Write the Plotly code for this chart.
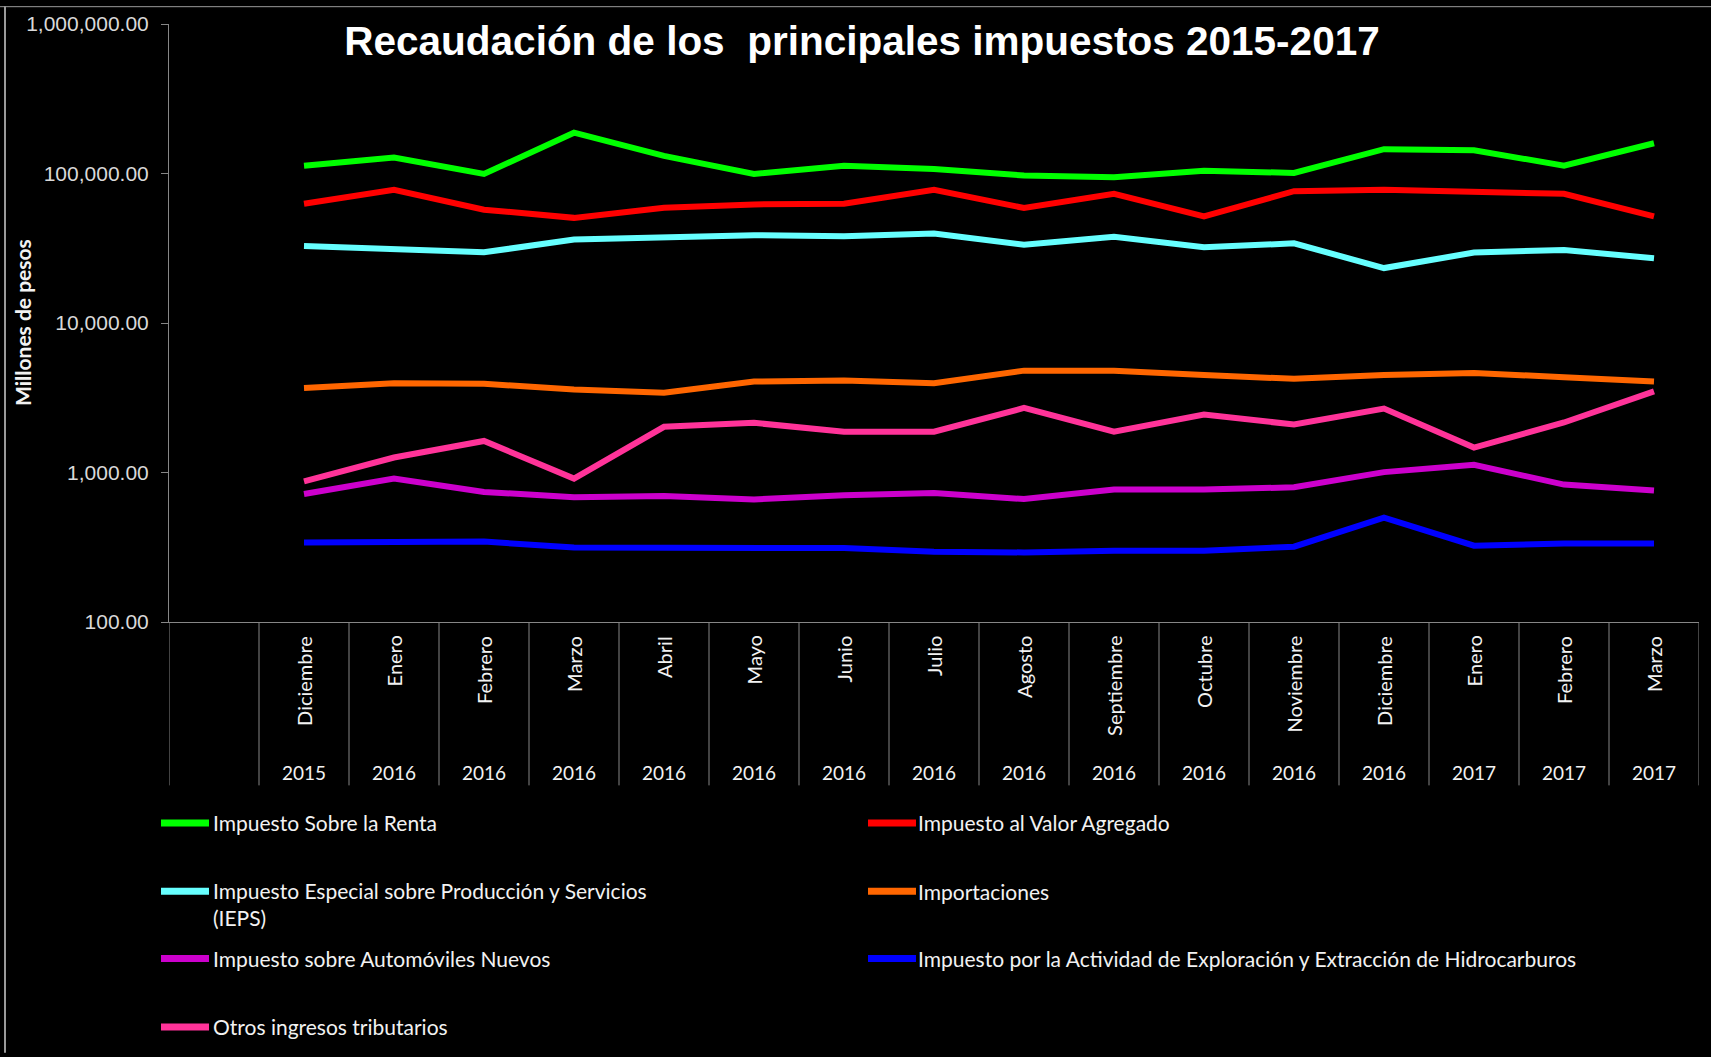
import plotly.graph_objects as go

# ---- data -------------------------------------------------------------
months = ["Diciembre", "Enero", "Febrero", "Marzo", "Abril", "Mayo", "Junio",
          "Julio", "Agosto", "Septiembre", "Octubre", "Noviembre", "Diciembre",
          "Enero", "Febrero", "Marzo"]
years = ["2015"] + ["2016"] * 12 + ["2017"] * 3

# one category per (month, year) pair, preceded by an empty leading slot
periods = [f"{m} {y}" for m, y in zip(months, years)]
lead_slot = " "
categories = [lead_slot] + periods

isr = [112700, 128000, 99300, 187600, 131200, 99300, 112700, 107100,
       97000, 94300, 104400, 100800, 145400, 143200, 112700, 159300]
iva = [62800, 77800, 57300, 50500, 59100, 62100, 62800, 77800,
       58800, 73100, 51700, 76200, 77800, 75000, 73100, 51700]
ieps = [32700, 31200, 29700, 36200, 37800, 38700, 38000, 39700,
        33400, 37800, 32100, 34100, 23300, 29600, 30800, 27100]
importaciones = [3680, 3960, 3920, 3590, 3410, 4060, 4120, 3960,
                 4800, 4800, 4490, 4230, 4490, 4630, 4340, 4060]
isan = [719, 910, 741, 684, 695, 660, 705, 730,
        664, 769, 769, 796, 1006, 1127, 830, 757]
hidrocarburos = [340, 340, 345, 315, 312, 312, 312, 295,
                 292, 300, 300, 319, 499, 324, 335, 335]
otros = [873, 1259, 1625, 910, 2022, 2149, 1873, 1873,
         2702, 1873, 2440, 2094, 2675, 1467, 2160, 3487]

series_names = [
    "Impuesto Sobre la Renta",
    "Impuesto al Valor Agregado",
    "Impuesto Especial sobre Producción y Servicios<br>(IEPS)",
    "Importaciones",
    "Impuesto sobre Automóviles Nuevos",
    "Impuesto por la Actividad de Exploración y Extracción de Hidrocarburos",
    "Otros ingresos tributarios",
]
series_values = [isr, iva, ieps, importaciones, isan, hidrocarburos, otros]

title_text = "Recaudación de los \u00a0principales impuestos 2015-2017"
y_title = "Millones de pesos"

# ---- styling / geometry ------------------------------------------------
colors = ["#00FF00", "#FF0000", "#66FFFF", "#FF6600", "#CC00CC", "#0000FF", "#FF3399"]

W, H = 1711, 1057
ML, MR, MT, MB = 169, 12, 18, 435
PW = W - ML - MR
PH = H - MT - MB
AXIS_GRAY = "#868686"
TEXT = "#F2F2F2"
CAL = "Lato, 'Open Sans', sans-serif"


def px(x):
    """pixel column -> paper x"""
    return (x - ML) / PW


def py(y):
    """pixel row -> paper y"""
    return (H - MB - y) / PH


fig = go.Figure()

for name, vals, col in zip(series_names, series_values, colors):
    fig.add_trace(go.Scatter(
        x=periods, y=vals, mode="lines", name=name.replace("<br>", " "),
        line=dict(color=col, width=6), showlegend=False,
    ))

shapes = []
# category dividers under the plot and the extended left axis line
for k in range(len(categories) + 1):
    shapes.append(dict(type="line", xref="x", yref="paper",
                       x0=k - 0.5, x1=k - 0.5, y0=0, y1=py(787),
                       line=dict(color=AXIS_GRAY, width=1)))

# thin frame at the left and top edges
shapes.append(dict(type="line", xref="paper", yref="paper",
                   x0=px(5), x1=px(5), y0=py(0), y1=py(H),
                   line=dict(color="#9A9A9A", width=2)))
shapes.append(dict(type="line", xref="paper", yref="paper",
                   x0=px(0), x1=px(W), y0=py(0.5), y1=py(0.5),
                   line=dict(color="#9A9A9A", width=1)))

annotations = []
for m, p in zip(months, periods):
    annotations.append(dict(x=p, xref="x", y=py(634), yref="paper",
                            text=m, textangle=-90, showarrow=False,
                            xanchor="center", yanchor="top",
                            font=dict(family=CAL, size=20, color=TEXT)))
for yv, p in zip(years, periods):
    annotations.append(dict(x=p, xref="x", y=py(774), yref="paper",
                            text=yv, showarrow=False,
                            xanchor="center", yanchor="middle",
                            font=dict(family=CAL, size=19, color=TEXT)))

annotations.append(dict(x=px(22), xref="paper", y=py(320), yref="paper",
                        text=y_title, textangle=-90, showarrow=False,
                        xanchor="center", yanchor="middle",
                        font=dict(family=CAL, size=21, color=TEXT, weight="bold")))

# legend laid out in two columns
legend_slots = [(0, 0), (1, 0), (0, 1), (1, 1), (0, 2), (1, 2), (0, 3)]
row_y = [825, 894, 962, 1031]
swatch_x = [(161, 209), (868, 916)]
label_x = [211, 916]
for name, col, (c, r) in zip(series_names, colors, legend_slots):
    yy = row_y[r]
    shapes.append(dict(type="line", xref="paper", yref="paper",
                       x0=px(swatch_x[c][0]), x1=px(swatch_x[c][1]),
                       y0=py(yy), y1=py(yy),
                       line=dict(color=col, width=7)))
    if "<br>" in name:
        annotations.append(dict(x=px(label_x[c]), xref="paper",
                                y=py(yy - 15), yref="paper", text=name,
                                showarrow=False, xanchor="left", yanchor="top",
                                align="left",
                                font=dict(family=CAL, size=21, color=TEXT)))
    else:
        annotations.append(dict(x=px(label_x[c]), xref="paper",
                                y=py(yy), yref="paper", text=name,
                                showarrow=False, xanchor="left", yanchor="middle",
                                align="left",
                                font=dict(family=CAL, size=21, color=TEXT)))

fig.update_layout(
    width=W, height=H,
    margin=dict(l=ML, r=MR, t=MT, b=MB, pad=0),
    paper_bgcolor="black", plot_bgcolor="black",
    title=dict(text=title_text, xref="container", yref="container",
               x=862 / W, y=1 - 41 / H, xanchor="center", yanchor="middle",
               font=dict(family="'Liberation Sans', Arial, sans-serif",
                         size=40.5, color="white", weight="bold")),
    xaxis=dict(type="category", categoryorder="array", categoryarray=categories,
               range=[-0.5, len(categories) - 0.5], showticklabels=False,
               ticks="", showgrid=False, zeroline=False,
               showline=True, linecolor=AXIS_GRAY, linewidth=1),
    yaxis=dict(type="log", range=[2, 6], dtick=1, tickformat=",.2f",
               showgrid=False, zeroline=False, showline=True,
               linecolor=AXIS_GRAY, linewidth=1,
               ticks="outside", ticklen=7, tickcolor=AXIS_GRAY, tickwidth=1,
               ticklabelstandoff=8,
               tickfont=dict(family="'Liberation Sans', Arial, sans-serif",
                             size=21, color="#D9D9D9")),
    shapes=shapes,
    annotations=annotations,
    showlegend=False,
)

fig.write_html("out.html")
